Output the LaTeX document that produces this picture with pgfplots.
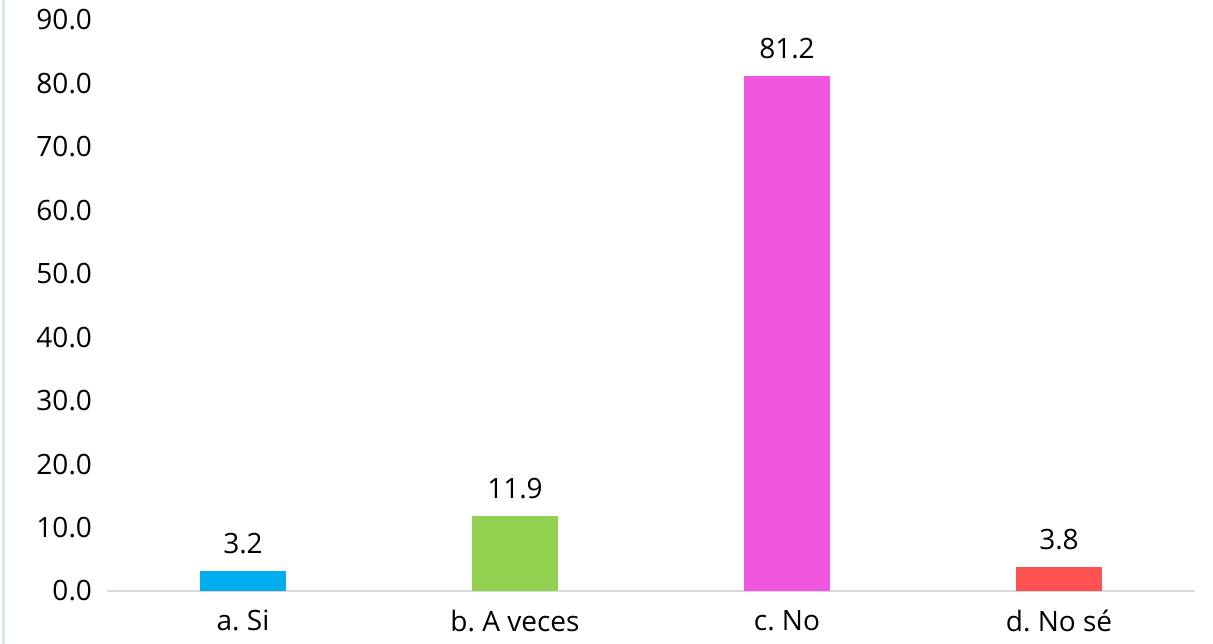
\documentclass[border=0pt]{standalone}
\usepackage{pgfplots}
\pgfplotsset{compat=1.18}
\usepackage{fontspec}
\setmainfont{Open Sans}
\frenchspacing
\definecolor{cBlue}{HTML}{00AEEF}
\definecolor{cGreen}{HTML}{92D050}
\definecolor{cPink}{HTML}{F056E0}
\definecolor{cRed}{HTML}{FF5252}
\definecolor{cAxis}{HTML}{D9D9D9}
\definecolor{cEdge}{HTML}{DCE3EA}
\begin{document}
\begin{tikzpicture}
\begin{axis}[
    at={(0,0)}, anchor=south west,
    scale only axis,
    width=544bp, height=285.5bp,
    xmin=-0.5, xmax=3.5,
    ymin=0, ymax=90,
    ybar, bar width=43bp, bar shift=0pt,
    xtick={0,1,2,3},
    xticklabels={a. Si, b. A veces, c. No, d. No sé},
    ytick={0,10,...,90},
    major tick length=0pt,
    axis x line*=bottom,
    axis y line*=left,
    x axis line style={cAxis, line width=1bp, -},
    y axis line style={draw=none},
    /pgf/number format/.cd, fixed, fixed zerofill, precision=1, assume math mode=true,
    /pgfplots/.cd,
    yticklabel style={font=\fontsize{14bp}{16bp}\selectfont, text=black, xshift=-4bp},
    xticklabel style={font=\fontsize{14bp}{16bp}\selectfont, text=black, yshift=-6bp},
    nodes near coords,
    every node near coord/.append style={font=\fontsize{14bp}{16bp}\selectfont, text=black, yshift=5bp},
    clip=false,
]
\addplot[fill=cBlue, draw=none] coordinates {(0,3.2)};
\addplot[fill=cGreen, draw=none] coordinates {(1,11.9)};
\addplot[fill=cPink, draw=none] coordinates {(2,81.2)};
\addplot[fill=cRed, draw=none] coordinates {(3,3.8)};
\end{axis}
\draw[cEdge, line width=1.5bp] (-51.5bp,-26.5bp) -- (-51.5bp,295.5bp);
\pgfresetboundingbox
\path[use as bounding box] (-53.5bp,-26.5bp) rectangle (553bp,295.5bp);
\end{tikzpicture}
\end{document}
